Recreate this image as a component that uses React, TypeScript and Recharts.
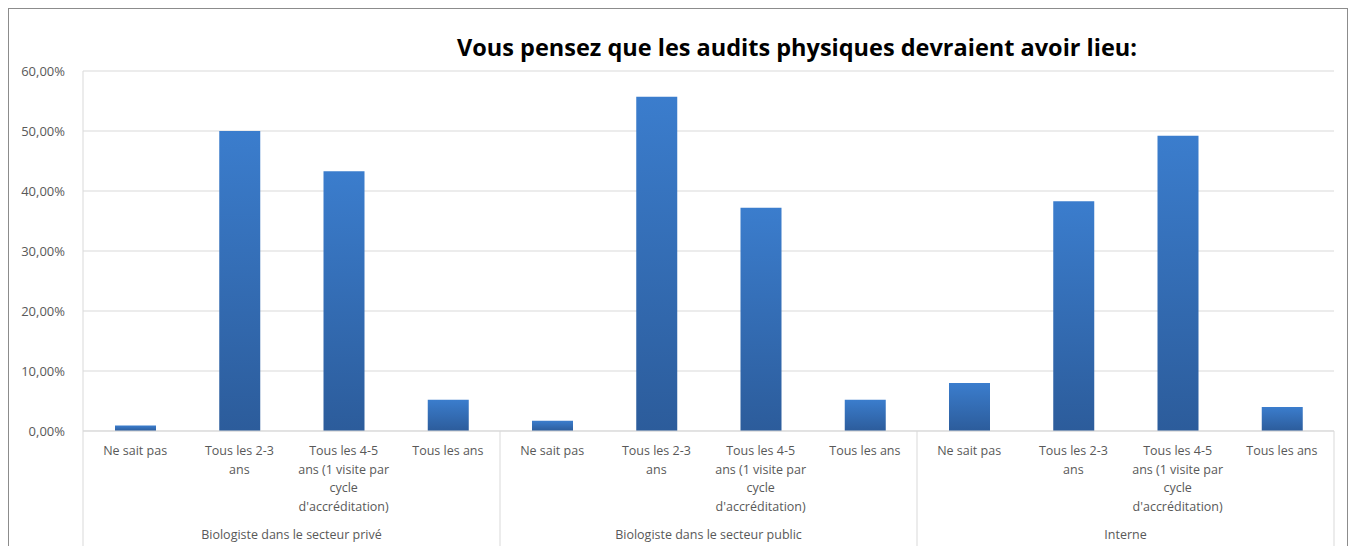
import React from 'react';
import { BarChart, Bar, XAxis, YAxis, CartesianGrid } from 'recharts';

// Answer options (repeated per group) and the three respondent groups
const answers = [
  ['Ne sait pas'],
  ['Tous les 2-3', 'ans'],
  ['Tous les 4-5', 'ans (1 visite par', 'cycle', "d'accréditation)"],
  ['Tous les ans'],
];
const groups = ['Biologiste dans le secteur privé', 'Biologiste dans le secteur public', 'Interne'];

// Share of answers, one array per group
const prive = [0.009, 0.5, 0.433, 0.052];
const publicSector = [0.017, 0.557, 0.372, 0.052];
const interne = [0.08, 0.383, 0.492, 0.04];

const yTicks = [0, 0.1, 0.2, 0.3, 0.4, 0.5, 0.6];

const groupValues = [prive, publicSector, interne];
const data = groupValues.flatMap((vals, g) =>
  vals.map((v, a) => ({ key: `${g}-${a}`, group: g, answer: a, value: v }))
);

const FONT = "'Open Sans', 'Liberation Sans', Arial, sans-serif";
const TEXT = '#595959';
const GRID = '#d9d9d9';

const fmtPct = (v: number) => `${(v * 100).toFixed(2).replace('.', ',')}%`;

const CategoryTick = (props: any) => {
  const { x, y, index, width } = props;
  const band = width ? width / data.length : 104.25;
  const row = data[index];
  if (!row) return null;
  const lines = answers[row.answer];
  const left = x - band / 2;
  const bottom = y + 130;
  return (
    <g>
      {row.answer === 0 && <line x1={left} x2={left} y1={y} y2={bottom} stroke={GRID} />}
      {index === data.length - 1 && (
        <line x1={x + band / 2} x2={x + band / 2} y1={y} y2={bottom} stroke={GRID} />
      )}
      <text x={x} y={y + 24} textAnchor="middle" fill={TEXT} fontSize={12.5} fontFamily={FONT}>
        {lines.map((l, i) => (
          <tspan key={i} x={x} dy={i === 0 ? 0 : 18.5}>
            {l}
          </tspan>
        ))}
      </text>
      {row.answer === 1 && (
        <text x={x + band / 2} y={y + 108} textAnchor="middle" fill={TEXT} fontSize={12.5} fontFamily={FONT}>
          {groups[row.group]}
        </text>
      )}
    </g>
  );
};

export default function App() {
  return (
    <div
      style={{
        position: 'relative',
        width: 1338,
        height: 540,
        border: '1px solid #8c8c8c',
        borderBottom: 'none',
        background: '#fff',
        overflow: 'hidden',
      }}
    >
      <div
        style={{
          position: 'absolute',
          top: 22,
          left: 388,
          width: 800,
          textAlign: 'center',
          fontFamily: FONT,
          fontWeight: 700,
          fontSize: 23.5,
          color: '#000',
          whiteSpace: 'nowrap',
        }}
      >
        Vous pensez que les audits physiques devraient avoir lieu:
      </div>
      <BarChart
        width={1338}
        height={540}
        data={data}
        margin={{ top: 62, right: 13, left: 0, bottom: 0 }}
        barCategoryGap={0}
      >
        <defs>
          <linearGradient id="barFill" x1="0" y1="0" x2="0" y2="1">
            <stop offset="0%" stopColor="#3b7dcd" />
            <stop offset="100%" stopColor="#2c5c9b" />
          </linearGradient>
        </defs>
        <CartesianGrid vertical={false} stroke={GRID} />
        <XAxis
          dataKey="key"
          interval={0}
          height={118}
          tickLine={false}
          tickSize={0}
          tickMargin={0}
          axisLine={{ stroke: GRID }}
          tick={<CategoryTick />}
        />
        <YAxis
          domain={[0, 0.6]}
          ticks={yTicks}
          tickFormatter={fmtPct}
          width={74}
          tickLine={false}
          tickSize={0}
          tickMargin={18}
          axisLine={{ stroke: GRID }}
          tick={{ fill: TEXT, fontSize: 13, fontFamily: FONT }}
        />
        <Bar dataKey="value" fill="url(#barFill)" barSize={41} isAnimationActive={false} />
      </BarChart>
    </div>
  );
}
